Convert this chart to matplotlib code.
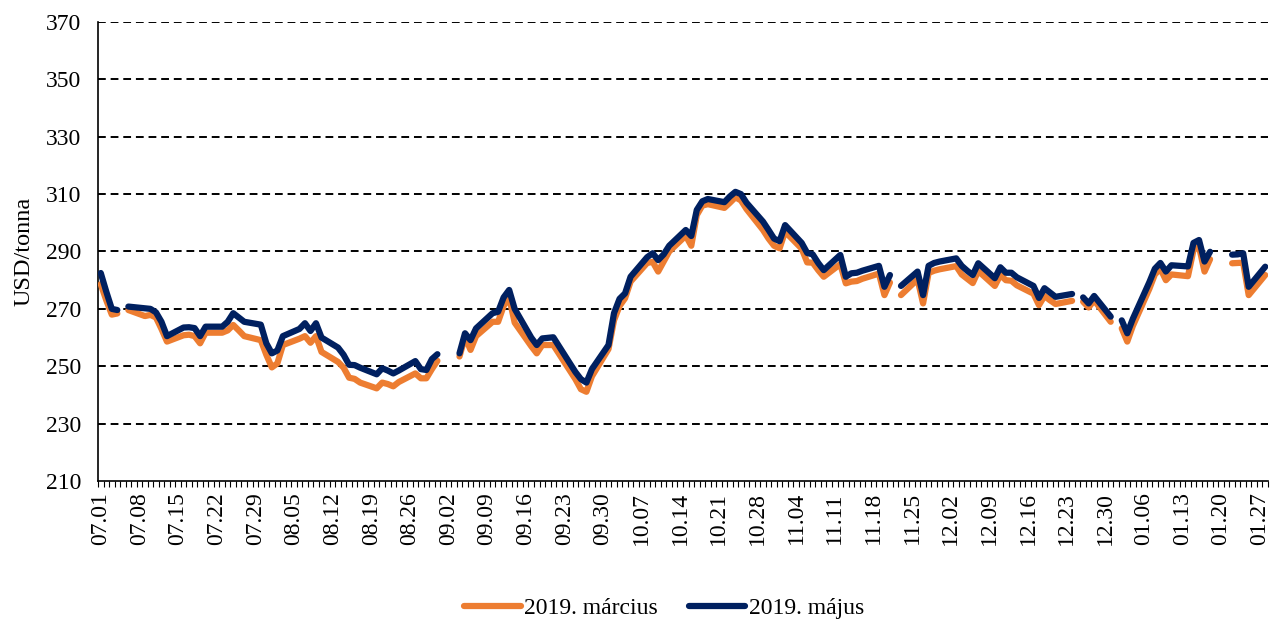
import numpy as np
import pandas as pd
import matplotlib
matplotlib.use("Agg")
import matplotlib.pyplot as plt

# trading days (holidays left empty)
dates = [
    "2018-07-01", "2018-07-02", "2018-07-03", "2018-07-04", "2018-07-05", "2018-07-06",
    "2018-07-09", "2018-07-10", "2018-07-11", "2018-07-12", "2018-07-13",
    "2018-07-16", "2018-07-17", "2018-07-18", "2018-07-19", "2018-07-20",
    "2018-07-23", "2018-07-24", "2018-07-25", "2018-07-26", "2018-07-27",
    "2018-07-30", "2018-07-31", "2018-08-01", "2018-08-02", "2018-08-03",
    "2018-08-06", "2018-08-07", "2018-08-08", "2018-08-09", "2018-08-10",
    "2018-08-13", "2018-08-14", "2018-08-15", "2018-08-16", "2018-08-17",
    "2018-08-20", "2018-08-21", "2018-08-22", "2018-08-23", "2018-08-24",
    "2018-08-27", "2018-08-28", "2018-08-29", "2018-08-30", "2018-08-31",
    "2018-09-03", "2018-09-04", "2018-09-05", "2018-09-06", "2018-09-07",
    "2018-09-10", "2018-09-11", "2018-09-12", "2018-09-13", "2018-09-14",
    "2018-09-17", "2018-09-18", "2018-09-19", "2018-09-20", "2018-09-21",
    "2018-09-24", "2018-09-25", "2018-09-26", "2018-09-27", "2018-09-28",
    "2018-10-01", "2018-10-02", "2018-10-03", "2018-10-04", "2018-10-05",
    "2018-10-08", "2018-10-09", "2018-10-10", "2018-10-11", "2018-10-12",
    "2018-10-15", "2018-10-16", "2018-10-17", "2018-10-18", "2018-10-19",
    "2018-10-22", "2018-10-23", "2018-10-24", "2018-10-25", "2018-10-26",
    "2018-10-29", "2018-10-30", "2018-10-31", "2018-11-01", "2018-11-02",
    "2018-11-05", "2018-11-06", "2018-11-07", "2018-11-08", "2018-11-09",
    "2018-11-12", "2018-11-13", "2018-11-14", "2018-11-15", "2018-11-16",
    "2018-11-19", "2018-11-20", "2018-11-21", "2018-11-22", "2018-11-23",
    "2018-11-26", "2018-11-27", "2018-11-28", "2018-11-29", "2018-11-30",
    "2018-12-03", "2018-12-04", "2018-12-05", "2018-12-06", "2018-12-07",
    "2018-12-10", "2018-12-11", "2018-12-12", "2018-12-13", "2018-12-14",
    "2018-12-17", "2018-12-18", "2018-12-19", "2018-12-20", "2018-12-21",
    "2018-12-24", "2018-12-25", "2018-12-26", "2018-12-27", "2018-12-28",
    "2018-12-31", "2019-01-01", "2019-01-02", "2019-01-03", "2019-01-04",
    "2019-01-07", "2019-01-08", "2019-01-09", "2019-01-10", "2019-01-11",
    "2019-01-14", "2019-01-15", "2019-01-16", "2019-01-17", "2019-01-18",
    "2019-01-21", "2019-01-22", "2019-01-23", "2019-01-24", "2019-01-25",
    "2019-01-28",
]

marcius = [
    278.6, 273.0, 268.0, 268.4, None, 269.6,
    267.5, 267.9, 267.0, 263.0, 258.6,
    260.8, 261.0, 260.5, 258.0, 261.7,
    261.7, 262.5, 264.4, 262.5, 260.5,
    259.1, 254.0, 249.6, 251.0, 257.4,
    259.6, 260.5, 258.2, 260.5, 255.0,
    251.5, 249.5, 246.0, 245.6, 244.3,
    242.3, 244.3, 243.8, 243.0, 244.5,
    247.5, 245.8, 245.8, 249.0, 251.9,
    None, 253.4, 260.3, 255.7, 260.5,
    265.5, 265.5, 271.0, 274.0, 265.2,
    257.0, 254.5, 257.4, 257.4, 257.4,
    248.5, 245.5, 242.0, 241.1, 246.5,
    256.0, 266.0, 271.0, 273.7, 279.5,
    286.0, 286.4, 283.0, 286.5, 290.0,
    295.5, 292.0, 302.7, 306.0, 306.5,
    305.2, 307.0, 308.9, 307.8, 304.8,
    297.5, 294.5, 292.0, 291.1, 296.9,
    291.0, 286.2, 286.1, 283.5, 281.2,
    285.6, 278.9, 279.5, 279.7, 280.5,
    282.3, 274.8, 279.2, None, 274.8,
    280.3, 271.9, 282.5, 283.3, 283.8,
    284.9, 282.0, 280.5, 279.0, 283.2,
    278.0, 281.8, 280.0, 279.8, 278.2,
    275.3, 271.3, 274.5, 273.0, 271.7,
    272.8, None, 272.5, 270.5, 273.0,
    265.5, None, 263.2, 258.6, 264.0,
    277.0, 282.0, 284.0, 280.0, 282.0,
    281.4, 290.5, 291.7, 283.0, 287.3,
    None, 285.9, 286.0, 286.1, 274.8,
    281.8,
]

majus = [
    282.5, 276.0, 270.0, 269.6, None, 270.8,
    270.2, 270.0, 268.8, 265.5, 260.5,
    263.5, 263.6, 263.3, 260.5, 263.8,
    263.8, 265.5, 268.5, 267.0, 265.5,
    264.5, 258.0, 254.5, 255.5, 260.5,
    263.0, 265.0, 262.3, 265.0, 260.0,
    256.5, 254.0, 250.5, 250.4, 249.5,
    247.2, 249.3, 248.5, 247.5, 248.5,
    251.8, 249.0, 248.7, 252.5, 254.2,
    None, 254.5, 261.5, 259.1, 263.2,
    268.5, 269.0, 274.0, 276.6, 270.0,
    260.0, 257.4, 259.7, 259.9, 260.1,
    251.0, 248.0, 245.5, 244.3, 249.0,
    257.4, 268.5, 273.5, 275.4, 281.2,
    288.0, 289.4, 287.0, 289.0, 292.0,
    297.5, 295.4, 304.5, 307.5, 308.3,
    307.2, 309.2, 310.8, 310.0, 307.0,
    300.4, 297.5, 294.5, 293.6, 299.2,
    293.0, 289.5, 289.0, 286.0, 283.5,
    288.8, 281.2, 282.4, 282.6, 283.3,
    285.0, 277.7, 281.8, None, 278.0,
    283.0, 274.8, 285.0, 286.0, 286.5,
    287.6, 285.0, 283.3, 281.8, 285.9,
    280.7, 284.5, 282.6, 282.6, 281.0,
    278.0, 273.8, 277.2, 275.7, 274.2,
    275.2, None, 274.0, 271.9, 274.5,
    267.3, None, 266.0, 261.5, 266.5,
    279.3, 284.0, 286.0, 283.0, 285.2,
    284.8, 293.0, 294.0, 286.5, 289.9,
    None, 288.9, 289.0, 289.4, 277.7,
    284.7,
]

start = "2018-07-01"
end = "2019-01-28"

plt.rcParams['font.family'] = ['Liberation Serif', 'DejaVu Serif']

d = pd.to_datetime(dates)
x = (d - pd.Timestamp(start)).days.values
y1 = np.array([np.nan if v is None else v for v in marcius])
y2 = np.array([np.nan if v is None else v for v in majus])
ndays = (pd.Timestamp(end) - pd.Timestamp(start)).days + 1

fig = plt.figure(figsize=(12.72, 6.22), dpi=100)
ax = fig.add_axes([98/1272, 1-481/622, 1170/1272, 459/622])

ax.plot(x, y1, color="#ED7D31", lw=4.5, solid_capstyle="round", solid_joinstyle="round", label="2019. március", zorder=3)
ax.plot(x, y2, color="#002060", lw=4.5, solid_capstyle="round", solid_joinstyle="round", label="2019. május", zorder=4)

ax.set_xlim(-0.5, ndays - 0.5)
ax.set_ylim(210, 370)
ax.set_yticks(np.arange(210, 371, 20))
for v in range(230, 371, 20):
    ax.axhline(v, color="black", lw=1.4, dashes=(4, 2.5), zorder=1)

ticks = pd.date_range(start, "2019-01-27", freq="7D")
ax.set_xticks((ticks - pd.Timestamp(start)).days)
ax.set_xticklabels(ticks.strftime("%m.%d"), rotation=90)
ax.set_xticks(np.arange(-0.5, ndays, 1), minor=True)
ax.tick_params(axis="x", which="major", length=0, pad=8, labelsize=17)
ax.tick_params(axis="x", which="minor", length=4, width=0.8, direction="out")
ax.tick_params(axis="y", length=0, pad=12, labelsize=17)

for s in ["top", "right"]:
    ax.spines[s].set_visible(False)
ax.spines["left"].set_linewidth(1.2)
ax.spines["bottom"].set_linewidth(1.2)

ax.set_ylabel("USD/tonna", fontsize=17.5, labelpad=8)

fig.legend(loc="center", bbox_to_anchor=(664/1272, 1-608/622), ncol=2, frameon=False,
           fontsize=17, handlelength=2.4, columnspacing=1.3, handletextpad=0.15)

fig.savefig("out.png", dpi=100)
